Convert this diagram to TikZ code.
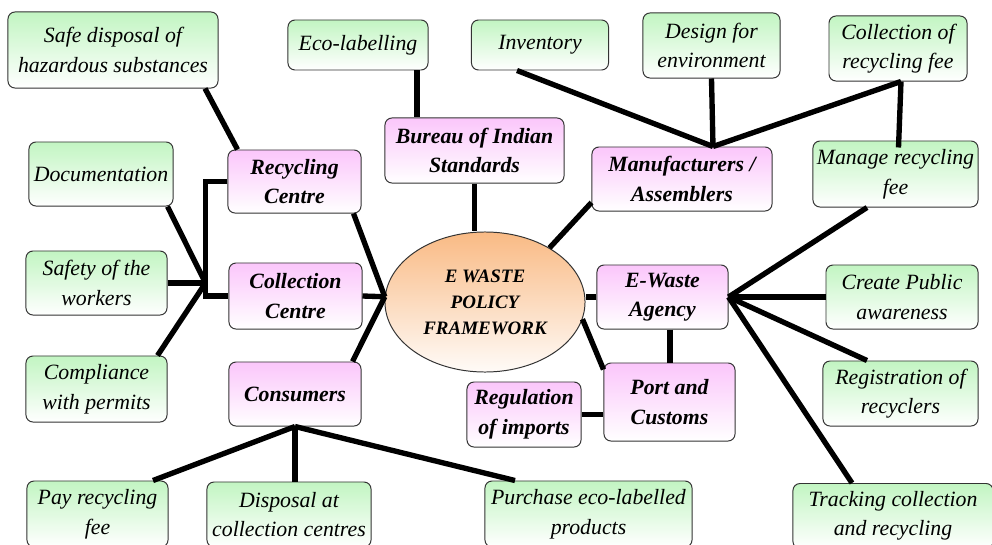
\documentclass[tikz,border=0pt]{standalone}
\usepackage{fontspec}
\setmainfont{Liberation Serif}
\usetikzlibrary{calc,shapes.geometric}

\definecolor{greentop}{HTML}{C2F5C2}
\definecolor{pinktop}{HTML}{FBC6FB}
\definecolor{orangetop}{HTML}{F9BA84}

\tikzset{
    box/.style={draw=black!80, line width=0.7pt, rounded corners=5pt, align=center, inner sep=1pt,
        font=\fontsize{15.5}{21}\selectfont\itshape},
    greenbox/.style={box, top color=greentop, bottom color=white},
    pinkbox/.style={box, top color=pinktop, bottom color=white,
        font=\fontsize{15.5}{21}\selectfont\bfseries\itshape},
    link/.style={line width=3.8pt},
}

\begin{document}
\begin{tikzpicture}[x=0.025cm, y=-0.025cm]
                        \useasboundingbox (0,0) rectangle (992,545);

                        \foreach \n/\px/\py/\w/\h/\txt in {
                            safe/113/50/5.25/1.9/{Safe disposal of\\hazardous substances},
                            eco/358/45/3.5/1.25/{Eco-labelling},
                            inventory/540/45/3.425/1.25/{Inventory},
                            design/711.5/45.5/3.425/1.625/{Design for\\environment},
                            collfee/898/48.5/3.45/1.625/{Collection of\\recycling fee},
                            manage/895.5/174/4.125/1.65/{Manage recycling\\fee},
                            doc/101/174/3.6/1.6/{Documentation},
                            safety/96.5/283/3.525/1.6/{Safety of the\\workers},
                            compliance/96.5/389/3.525/1.65/{Compliance\\with permits},
                            pay/97.5/514/3.525/1.65/{Pay recycling\\fee},
                            disposal/289/514.5/4.1/1.625/{Disposal at\\collection centres},
                            purchase/588.5/514/5.175/1.65/{Purchase eco-labelled\\products},
                            public/902/297/3.8/1.6/{Create Public\\awareness},
                            registration/900.5/393.5/3.875/1.625/{Registration of\\recyclers},
                            tracking/893/516/5/1.625/{Tracking collection\\and recycling}} {
                            \node (\n) at (\px, \py) [greenbox, minimum width=\w cm, minimum height=\h cm] {\txt};
                        }

                        \foreach \n/\px/\py/\w/\h/\txt in {
                            recycling/294.5/181.5/3.325/1.575/{Recycling\\Centre},
                            collection/295.5/296/3.325/1.65/{Collection\\Centre},
                            consumers/295/394/3.3/1.6/{Consumers},
                            bureau/474.5/150.5/4.475/1.625/{Bureau of Indian\\Standards},
                            manuf/682/179/4.5/1.6/{Manufacturers /\\Assemblers},
                            agency/662.5/297/3.275/1.6/{E-Waste\\Agency},
                            port/669.5/402/3.275/1.95/{Port and\\Customs},
                            regulation/524/414.5/2.85/1.625/{Regulation\\of imports}} {
                            \node (\n) at (\px, \py) [pinkbox, minimum width=\w cm, minimum height=\h cm] {\txt};
                        }

                        \node (policy) at (485, 302) [ellipse, draw=black!80, line width=0.7pt,
                            top color=orangetop, bottom color=orangetop!6, minimum width=5cm, minimum height=3.5cm,
                            align=center, font=\fontsize{13.5}{18.5}\selectfont\bfseries\itshape] {E WASTE\\POLICY\\FRAMEWORK};

                        % top side
                        \draw[link] ($(safe.south)+(92,0)$) -- ($(recycling.north)+(-57,0)$);
                        \draw[link] ($(eco.south)+(59,0)$) coordinate (e1) -- (e1 |- bureau.north);
                        \draw[link] (bureau.south) -- (bureau.south |- policy.north);
                        \draw[link] ($(manuf.south west)+(0,-9)$) -- (policy.40);

                        \coordinate (mtop) at ($(manuf.north)+(31,0)$);
                        \draw[link] ($(inventory.south)+(-23,0)$) -- (mtop);
                        \draw[link] (design.south) -- (mtop);
                        \draw[link] ($(collfee.south)+(3,0)$) coordinate (c1) -- (mtop);
                        \draw[link] (c1) -- ($(manage.north)+(3,7)$);

                        % right side
                        \draw[link] ($(manage.south)+(-28.5,0)$) -- (agency.east);
                        \draw[link] (agency.east) -- (public.west);
                        \draw[link] (agency.east) -- ($(registration.north)+(-33.5,0)$);
                        \draw[link] (agency.east) -- ($(tracking.north)+(-41,0)$);
                        \draw[link] (agency.west) -- (agency.west -| policy.east);
                        \draw[link] (policy.-10) -- ($(port.north west)+(0,7)$);
                        \draw[link] ($(agency.south)+(7.5,0)$) coordinate (a1) -- (a1 |- port.north);
                        \draw[link] (regulation.east) -- (regulation.east -| port.west);

                        % left side
                        \draw[link] ($(recycling.south east)+(-8,0)$) -- (policy.177);
                        \draw[link] (collection.east) -- (policy.177);
                        \draw[link] ($(consumers.north east)+(-9,0)$) -- (policy.177);

                        \draw[link] (recycling.west) -- ++(-22,0) coordinate (lt) -- (lt |- collection.west) -- (collection.west);
                        \coordinate (lj) at (lt |- safety.east);
                        \draw[link] ($(doc.south east)+(-6,0)$) -- (lj);
                        \draw[link] (safety.east) -- (lj);
                        \draw[link] ($(compliance.north east)+(-10,0)$) -- (lj);

                        % bottom
                        \draw[link] (consumers.south) -- ($(pay.north)+(55.5,0)$);
                        \draw[link] (consumers.south) -- (consumers.south |- disposal.north);
                        \draw[link] (consumers.south) -- ($(purchase.north)+(-73.5,0)$);
                    \end{tikzpicture}
\end{document}
